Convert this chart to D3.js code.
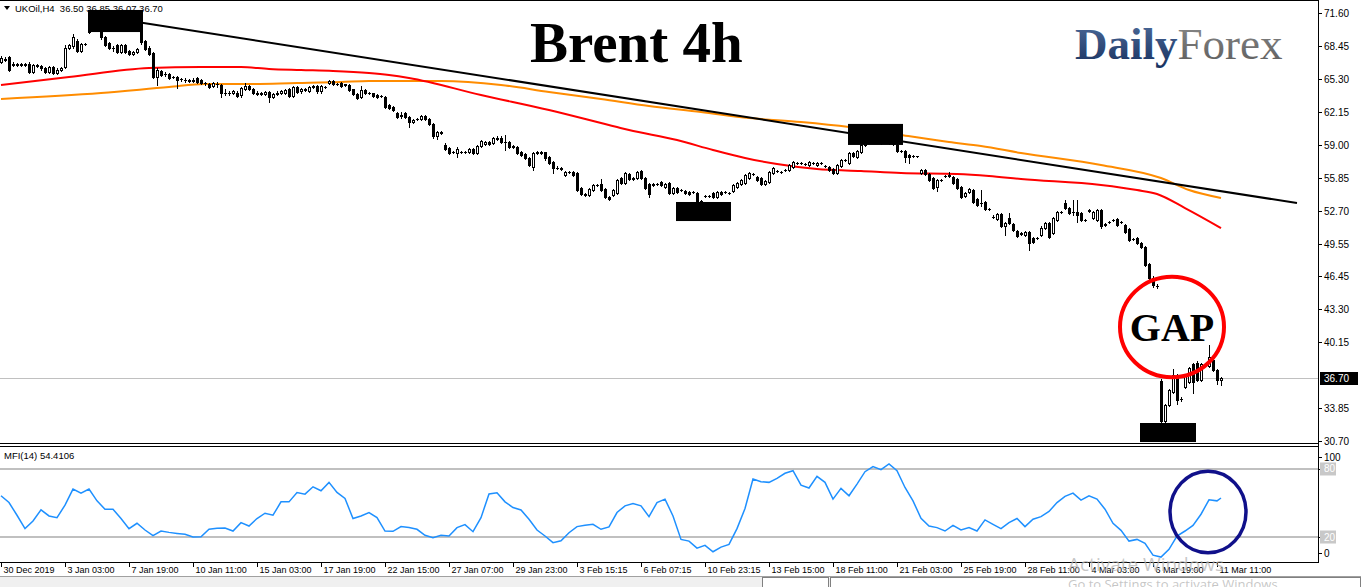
<!DOCTYPE html>
<html><head><meta charset="utf-8">
<script src="https://cdn.jsdelivr.net/npm/d3@7"></script>
<style>body{margin:0;background:#fff;overflow:hidden}svg{display:block}</style>
</head><body><svg id="c" width="1361" height="587"></svg>
<script>
// ---------- DATA ----------
const symbolHeader = "UKOil,H4";
const headerOHLC = ["36.50","36.85","36.07","36.70"];
const timeLabels = ["30 Dec 2019","3 Jan 03:00","7 Jan 19:00","10 Jan 11:00","15 Jan 03:00","17 Jan 19:00","22 Jan 15:00","27 Jan 07:00","29 Jan 23:00","3 Feb 15:15","6 Feb 07:15","10 Feb 23:15","13 Feb 15:00","18 Feb 11:00","21 Feb 03:00","25 Feb 19:00","28 Feb 11:00","4 Mar 03:00","6 Mar 19:00","11 Mar 11:00"];
const timeLabelBars = [0,16,32,48,64,80,96,112,128,144,160,176,192,208,224,240,256,272,288,304];
const priceTicks = [71.60,68.45,65.30,62.15,59.00,55.85,52.70,49.55,46.45,43.30,40.15,33.85,30.70];
const lastPrice = 36.70;
const mfiTicks = [100,80,20,0];
const mfiLevels = [80,20];

const opens = [66.9,67.25,67.4,66.6,66.7,66.65,66.7,66.7,66.0,66.6,66.5,66.3,66.0,66.4,65.9,66.2,66.4,68.3,68.4,68.9,68.0,68.6,69.8,70.3,70.8,70.0,69.3,68.7,68.3,68.5,67.9,68.5,68.0,67.7,67.9,69.8,68.9,68.3,67.8,65.5,66.1,65.8,65.8,65.5,65.5,65.3,65.2,65.2,65.1,65.4,
65.2,64.9,64.8,64.6,64.8,64.7,64.0,64.0,64.0,64.0,63.8,64.3,64.6,64.3,64.0,63.95,63.85,64.05,63.6,63.9,64.0,63.95,64.3,63.7,64.5,64.1,64.3,64.15,64.5,64.6,64.1,64.5,64.9,65.1,64.8,64.9,64.7,64.7,64.3,63.9,63.6,64.2,63.95,63.95,63.8,63.7,63.6,62.8,62.6,62.0,
61.8,62.0,61.7,61.2,61.5,61.45,61.8,61.5,61.0,59.8,60.2,59.0,58.7,58.3,58.2,58.3,58.35,58.3,58.6,58.2,58.9,59.1,59.3,59.2,59.6,59.7,59.3,59.3,58.8,58.8,58.3,58.1,57.7,56.9,58.2,58.3,58.3,57.8,57.4,56.8,56.8,56.1,56.4,56.4,56.3,54.9,54.3,54.2,54.7,55.2,
55.25,54.8,54.05,54.2,54.4,55.8,55.4,56.2,55.7,55.8,56.5,55.8,55.3,55.2,55.3,55.45,55.0,55.35,54.4,54.9,54.7,54.6,54.5,54.5,54.4,53.6,54.1,54.1,54.4,54.0,54.5,54.5,54.4,54.6,55.0,55.25,55.4,55.8,56.2,55.9,55.8,55.3,55.45,56.3,56.5,56.4,56.6,56.6,56.9,57.25,
57.3,57.15,57.1,57.3,57.1,57.25,57.0,56.9,56.7,56.3,57.0,57.55,57.25,58.2,57.8,58.3,59.0,59.4,59.3,59.6,59.3,59.5,59.3,59.4,59.0,58.4,58.4,58.0,57.9,57.9,56.3,56.6,56.2,55.8,55.0,55.6,56.0,56.1,55.9,55.7,55.0,54.1,54.5,54.7,53.8,53.4,53.5,52.9,52.1,51.9,
52.4,51.25,52.0,51.45,50.75,50.5,50.4,50.7,50.1,50.1,50.4,51.1,51.5,50.6,51.8,52.6,53.4,53.0,52.6,52.6,52.5,51.8,52.8,52.0,51.8,52.8,51.4,51.6,51.8,51.9,51.6,51.35,51.0,50.0,50.1,49.6,49.2,47.6,46.3,45.5,36.4,32.6,34.1,35.4,37.0,34.7,35.9,36.3,38.1,38.2,
36.5,38.1,37.9,38.4,37.5,36.50];
const highs = [67.5,67.4,67.5,66.9,66.85,66.8,66.85,66.9,66.75,66.7,66.6,66.45,66.5,66.5,66.3,66.4,68.5,68.6,69.6,69.1,68.7,68.7,70.5,71.3,71.5,70.1,69.4,68.8,68.4,68.6,68.6,68.6,68.1,68.0,68.3,70.0,69.0,68.4,67.9,66.3,66.2,66.0,65.9,65.6,65.6,65.4,65.35,65.3,65.35,65.5,
65.3,65.0,64.9,65.0,65.0,64.8,64.3,64.15,64.2,64.1,64.5,64.9,64.7,64.4,64.1,64.05,64.15,64.1,64.0,64.1,64.2,64.35,64.4,64.6,64.6,64.4,64.4,64.6,64.75,64.7,64.7,64.65,65.2,65.2,64.9,65.0,64.85,64.8,64.35,64.0,64.6,64.3,64.05,64.0,63.9,63.8,63.7,62.9,62.7,62.1,
62.1,62.1,61.8,61.5,61.6,61.85,61.9,61.6,61.1,60.3,60.3,59.2,58.8,58.4,58.8,58.45,58.45,58.7,58.7,59.0,59.5,59.4,59.4,59.75,59.8,59.8,59.9,59.4,58.95,58.9,58.4,58.2,57.8,58.3,58.4,58.4,58.35,57.9,57.5,56.95,56.9,56.5,56.5,56.5,56.4,55.0,54.4,54.9,55.3,55.3,
55.7,54.9,54.1,54.8,55.7,55.9,56.4,56.3,55.9,56.5,56.6,55.9,55.4,55.35,55.4,55.55,55.4,55.45,55.0,55.0,54.8,54.7,54.6,54.6,54.5,53.7,54.2,54.25,54.5,54.6,54.6,54.6,54.5,55.25,55.45,55.7,56.2,56.4,56.35,56.0,55.9,55.65,56.5,56.9,56.6,56.5,56.7,57.2,57.45,57.4,
57.4,57.25,57.45,57.4,57.4,57.4,57.1,57.0,56.8,57.2,57.65,57.65,58.3,58.3,58.5,59.1,59.7,59.8,60.0,60.2,59.9,60.0,59.7,59.6,59.1,58.5,58.5,58.1,58.0,57.95,56.7,56.7,56.3,55.9,55.7,55.75,56.1,56.4,56.0,55.8,55.1,54.5,54.9,54.8,53.9,54.7,53.6,53.0,52.3,52.5,
52.5,51.65,52.5,51.55,50.85,50.65,50.8,50.8,50.2,50.2,51.2,51.6,51.6,52.1,52.7,52.7,53.7,53.1,53.7,53.7,52.6,51.9,52.9,52.7,52.9,52.9,51.5,51.7,51.9,52.0,51.7,51.45,51.1,50.1,50.2,49.7,49.3,47.7,46.5,45.7,36.6,34.2,35.7,37.6,37.1,34.9,37.1,37.8,38.2,38.3,
38.2,38.2,39.9,38.5,37.6,36.85];
const lows = [66.8,67.0,66.1,66.5,66.55,66.5,66.5,65.9,65.9,66.4,66.2,65.9,65.9,65.8,65.8,66.1,66.3,68.2,68.3,67.9,67.9,68.55,69.7,70.2,70.0,69.1,68.4,68.2,68.0,67.8,67.8,67.8,67.6,67.6,67.8,68.6,68.1,67.6,65.4,64.7,65.6,65.6,65.3,65.4,64.4,65.1,65.05,65.0,65.0,64.9,
64.8,64.75,64.4,64.5,64.5,63.6,63.8,63.8,63.9,63.6,63.6,64.2,64.2,63.9,63.8,63.8,63.75,63.1,63.5,63.8,63.9,63.85,63.6,63.6,63.95,64.0,64.1,64.05,64.4,64.0,64.0,64.4,64.8,64.7,64.7,64.5,64.6,64.1,63.75,63.4,63.5,63.85,63.85,63.6,63.5,63.6,62.5,62.4,62.2,61.6,
61.6,61.6,60.7,61.1,61.4,61.4,61.4,60.9,59.7,59.6,60.05,58.5,58.1,58.2,57.8,58.2,58.2,58.2,58.1,58.1,58.8,59.0,59.0,59.1,59.5,59.2,58.5,58.7,58.7,58.15,57.9,57.65,57.0,56.6,58.1,58.1,57.6,57.2,56.3,56.7,56.6,56.0,56.3,56.0,54.6,54.2,54.1,54.1,54.6,55.1,
54.6,53.9,53.7,54.1,54.3,55.3,55.3,55.6,55.6,55.7,55.7,54.8,54.0,55.1,55.2,55.05,54.9,54.3,54.3,54.4,54.6,54.3,54.2,54.4,53.4,53.5,54.0,54.0,53.9,53.9,54.2,54.4,54.3,54.5,54.9,55.15,55.3,55.7,56.1,55.5,55.15,55.2,55.35,56.2,56.4,56.3,56.5,56.5,56.8,57.15,
57.15,57.05,57.0,57.2,57.0,57.15,56.9,56.5,56.2,56.2,56.9,57.45,57.15,57.8,57.7,58.2,58.9,59.2,59.2,59.2,59.1,59.2,59.1,59.0,58.3,58.3,57.4,57.3,57.8,57.85,56.2,56.1,55.5,54.8,54.6,55.5,55.9,55.9,55.25,54.8,53.9,54.0,54.4,53.4,53.15,53.2,52.8,52.8,52.0,51.8,
51.15,50.4,51.4,50.8,50.2,50.4,50.3,48.95,49.6,50.0,50.3,51.0,50.1,50.5,51.7,52.5,52.85,52.4,52.3,51.6,51.7,51.7,52.6,51.9,51.7,51.1,51.25,51.5,51.7,51.25,51.5,50.6,49.8,49.9,49.5,49.1,47.4,46.2,45.4,45.3,31.3,31.0,34.0,35.3,34.2,34.5,35.8,36.2,35.3,36.4,
36.4,37.9,37.8,37.4,36.1,36.07];
const closes = [67.3,67.15,66.2,66.7,66.65,66.7,66.6,66.0,66.6,66.5,66.3,66.0,66.4,65.9,66.2,66.3,68.3,68.5,69.3,68.0,68.6,68.65,70.3,70.8,70.2,69.3,68.5,68.3,68.25,67.9,68.5,67.9,67.7,67.9,68.2,68.8,68.2,67.7,65.5,66.2,65.7,65.8,65.4,65.5,65.2,65.3,65.2,65.1,65.2,65.0,
64.9,64.9,64.5,64.9,64.8,64.0,64.0,63.95,64.1,63.7,64.4,64.6,64.3,64.0,63.9,63.9,64.05,63.6,63.9,64.0,64.1,64.25,63.7,64.5,64.05,64.3,64.2,64.5,64.6,64.1,64.6,64.55,65.1,64.8,64.85,64.6,64.8,64.2,63.85,63.5,64.2,63.95,63.95,63.7,63.6,63.7,62.6,62.5,62.3,61.7,
61.85,61.7,61.2,61.4,61.5,61.75,61.5,61.0,59.8,60.2,60.15,58.6,58.2,58.3,58.6,58.35,58.3,58.6,58.2,58.9,59.4,59.3,59.1,59.65,59.7,59.3,59.25,58.8,58.85,58.25,58.0,57.75,57.1,58.2,58.3,58.2,57.7,57.3,56.8,56.8,56.7,56.4,56.4,56.1,54.7,54.3,54.2,54.8,55.2,55.15,
54.7,54.0,53.8,54.7,55.6,55.4,56.3,55.7,55.8,56.4,55.8,54.9,54.3,55.25,55.3,55.15,55.3,54.4,54.9,54.5,54.7,54.4,54.3,54.5,53.5,53.6,54.1,54.15,54.0,54.5,54.3,54.5,54.4,55.15,55.35,55.6,56.1,56.3,56.25,55.6,55.25,55.55,56.4,56.8,56.5,56.4,56.6,57.1,57.35,57.3,
57.25,57.15,57.35,57.3,57.3,57.3,57.0,56.6,56.3,57.1,57.55,57.55,58.2,57.9,58.4,59.0,59.4,59.3,59.6,59.3,59.5,59.3,59.4,59.1,58.4,58.45,57.85,57.8,57.9,57.9,56.6,56.2,55.6,54.9,55.6,55.65,56.0,56.0,55.35,54.9,54.0,54.4,54.8,53.5,53.25,53.45,52.9,52.9,52.1,52.4,
51.25,51.55,51.5,50.9,50.3,50.55,50.7,49.6,49.7,50.1,51.1,51.5,50.2,52.0,52.6,52.6,52.95,52.5,52.6,52.3,51.8,51.8,52.7,52.6,52.8,51.2,51.35,51.6,51.8,51.35,51.6,50.7,49.9,50.0,49.6,49.2,47.5,46.3,45.6,45.5,32.6,34.1,35.6,37.0,34.6,34.7,37.0,37.7,36.3,36.5,
38.1,38.0,38.7,37.5,36.5,36.70];

// moving averages sampled at bar positions
const redMABars   = [0,17,37,50,60,67,75,83,92,97,102,120,137,154,157,169,178,186,194,204,215,225,239,247,255,275,284,289,296,305];
const redMAValues = [64.72,65.48,66.34,66.44,66.44,66.25,66.15,66.06,65.86,65.67,65.39,63.76,62.33,60.70,60.42,59.46,58.51,57.74,57.17,56.69,56.50,56.31,56.21,56.02,55.73,55.16,54.68,54.30,52.96,51.05];
const orangeMABars   = [0,25,42,51,60,74,85,92,102,110,125,137,150,162,175,187,200,212,225,237,245,255,275,290,297,305];
const orangeMAValues = [63.38,63.95,64.53,64.81,64.81,64.91,65.00,65.10,65.10,65.10,64.72,64.05,63.38,62.71,62.14,61.56,61.18,60.70,59.94,59.27,58.89,58.22,57.07,55.83,54.68,53.92];
const trendBars   = [24,324];
const trendPrices = [71.34,53.44];

// MFI(14)
const mfiValues = [56.4,50.4,39.2,27.4,34.2,43.9,38.6,37.1,48.1,62.3,58.7,62.3,51.9,44.5,44.5,36.3,27.4,32.1,26.2,21.2,25.3,24.1,23.2,22.4,20.0,20.3,26.8,27.7,28.0,25.3,32.7,29.7,36.3,41.0,39.2,51.0,51.0,59.3,57.8,64.3,60.8,68.2,59.3,54.0,36.3,38.6,41.6,37.1,25.3,25.0,29.2,28.3,26.8,21.5,19.4,21.5,20.9,28.3,30.9,24.7,37.1,58.0,59.0,51.0,46.0,43.9,35.7,26.2,20.9,15.0,16.7,23.8,29.2,30.3,31.2,26.8,28.9,41.6,47.5,49.6,47.5,38.0,50.4,53.4,38.6,17.9,16.4,10.2,12.6,7.0,11.1,13.5,27.4,45.1,71.1,68.8,68.2,71.7,76.2,78.5,65.8,63.2,73.5,68.2,53.4,62.9,56.4,66.7,77.6,82.1,79.4,84.4,78.5,63.7,51.9,36.5,29.7,28.3,25.3,30.3,26.2,28.3,25.3,35.1,31.2,27.4,32.7,36.3,29.2,35.7,38.0,42.5,50.4,55.8,58.7,52.5,56.4,53.4,44.5,32.1,25.9,16.4,17.9,14.4,4.0,2.3,9.1,20.9,25.3,30.3,40.1,52.8,51.9,54.41];
const mfiBars = d3.range(0, 305, 2).concat([305]);
const mfiLabel = "MFI(14) 54.4106";

// annotations (data coordinates)
const boxBars   = [[21.75,35.5],[211.75,225.5],[168.75,182.5],[284.75,298.75]];
const boxPrices = [[71.89,69.78],[61.0,58.99],[53.54,51.72],[32.42,30.6]];
const gapCircle = {bar:292.75, price:41.6, rBars:13, rPrice:4.8};
const mfiCircle = {bar:301.75, value:42.1, rBars:9.5, rValue:36};

// ---------- DRAW ----------
const svg = d3.select("#c");
const W = 1361, H = 587, R = 1318;
const x = d3.scaleLinear().domain([0, 329.25]).range([1, R]);
const y = d3.scaleLinear().domain([30.70, 71.60]).range([441, 13]);
const ym = d3.scaleLinear().domain([0, 100]).range([559.7, 446.3]);
const FONT = "'Liberation Sans', Arial, sans-serif";

const defs = svg.append("defs");
defs.append("clipPath").attr("id","clipMain").append("rect").attr("x",0).attr("y",2).attr("width",R).attr("height",441);
defs.append("clipPath").attr("id","clipMfi").append("rect").attr("x",0).attr("y",447).attr("width",R).attr("height",115);
const gd = defs.append("linearGradient").attr("id","gDaily").attr("x1",0).attr("y1",0).attr("x2",0).attr("y2",1);
gd.append("stop").attr("offset","0%").attr("stop-color","#4f6d9c");
gd.append("stop").attr("offset","100%").attr("stop-color","#17305e");
const gf = defs.append("linearGradient").attr("id","gForex").attr("x1",0).attr("y1",0).attr("x2",0).attr("y2",1);
gf.append("stop").attr("offset","0%").attr("stop-color","#8c8c8c");
gf.append("stop").attr("offset","100%").attr("stop-color","#5a5a5a");

svg.append("rect").attr("width",W).attr("height",H).attr("fill","#fff");

const main = svg.append("g").attr("clip-path","url(#clipMain)");
// last price line
main.append("line").attr("x1",0).attr("x2",R).attr("y1",Math.round(y(lastPrice))+0.5).attr("y2",Math.round(y(lastPrice))+0.5)
  .attr("stroke","#c0c0c0").attr("stroke-width",1);

// MAs
const lineP = d3.line().x(d=>x(d[0])).y(d=>y(d[1])).curve(d3.curveMonotoneX);
main.append("path").attr("d", lineP(orangeMABars.map((b,i)=>[b,orangeMAValues[i]])))
  .attr("fill","none").attr("stroke","#ff8c00").attr("stroke-width",2);
main.append("path").attr("d", lineP(redMABars.map((b,i)=>[b,redMAValues[i]])))
  .attr("fill","none").attr("stroke","#ff0000").attr("stroke-width",2);
main.append("path").attr("d", d3.line().x(d=>x(d[0])).y(d=>y(d[1]))(trendBars.map((b,i)=>[b,trendPrices[i]])))
  .attr("fill","none").attr("stroke","#000").attr("stroke-width",2);

// candles
const cg = main.append("g").attr("shape-rendering","crispEdges");
closes.forEach((c,i)=>{
  const o=opens[i], h=highs[i], l=lows[i];
  const cx = Math.round(x(i)) + 0.5;
  cg.append("line").attr("x1",cx).attr("x2",cx).attr("y1",Math.round(y(h))).attr("y2",Math.round(y(l))+1).attr("stroke","#000");
  const top = Math.round(y(Math.max(o,c))), bot = Math.round(y(Math.min(o,c)));
  if (bot - top < 1) {
    cg.append("line").attr("x1",cx-1.5).attr("x2",cx+1.5).attr("y1",top+0.5).attr("y2",top+0.5).attr("stroke","#000");
  } else if (c > o) {
    cg.append("rect").attr("x",cx-1).attr("y",top+0.5).attr("width",2).attr("height",bot-top).attr("fill","#fff").attr("stroke","#000");
  } else {
    cg.append("rect").attr("x",cx-1.5).attr("y",top).attr("width",3).attr("height",bot-top+1).attr("fill","#000");
  }
});

// black boxes
boxBars.forEach((bb,i)=>{
  main.append("rect").attr("x",x(bb[0])).attr("width",x(bb[1])-x(bb[0]))
    .attr("y",y(boxPrices[i][0])).attr("height",y(boxPrices[i][1])-y(boxPrices[i][0])).attr("fill","#000");
});

// GAP circle
svg.append("ellipse").attr("cx",x(gapCircle.bar)).attr("cy",y(gapCircle.price))
  .attr("rx",x(gapCircle.bar+gapCircle.rBars)-x(gapCircle.bar)).attr("ry",y(gapCircle.price-gapCircle.rPrice)-y(gapCircle.price))
  .attr("fill","none").attr("stroke","#ff0000").attr("stroke-width",4);
svg.append("text").attr("x",x(gapCircle.bar)).attr("y",y(gapCircle.price)+14).attr("text-anchor","middle")
  .attr("font-family","'Liberation Serif', 'Times New Roman', serif").attr("font-weight","bold").attr("font-size",40).attr("fill","#000").text("GAP");

// Title + logo
svg.append("text").attr("x",530).attr("y",62).attr("font-family","'Liberation Serif', 'Times New Roman', serif")
  .attr("font-weight","bold").attr("font-size",57).attr("fill","#000").text("Brent 4h");
const logo = svg.append("text").attr("x",1075).attr("y",59).attr("font-family","'Liberation Serif', 'Times New Roman', serif").attr("font-size",45);
logo.append("tspan").attr("font-weight","bold").attr("fill","url(#gDaily)").text("Daily");
logo.append("tspan").attr("fill","url(#gForex)").text("Forex");

// header
svg.append("path").attr("d","M4,6 L10,6 L7,10 Z").attr("fill","#000");
svg.append("text").attr("x",15).attr("y",12).attr("font-family",FONT).attr("font-size",9.5).attr("fill","#000")
  .attr("xml:space","preserve").text(symbolHeader + "  " + headerOHLC.join(" "));

// frame
const fr = svg.append("g").attr("stroke","#000").attr("shape-rendering","crispEdges");
fr.append("line").attr("x1",0).attr("x2",R).attr("y1",0.5).attr("y2",0.5);
fr.append("line").attr("x1",R+0.5).attr("x2",R+0.5).attr("y1",0).attr("y2",563);
fr.append("line").attr("x1",0).attr("x2",R).attr("y1",443.5).attr("y2",443.5);
fr.append("line").attr("x1",0).attr("x2",R).attr("y1",446.5).attr("y2",446.5);
fr.append("line").attr("x1",0).attr("x2",R+1).attr("y1",562.5).attr("y2",562.5);

// price axis
priceTicks.forEach(p=>{
  const yy = Math.round(y(p)) + 0.5;
  fr.append("line").attr("x1",R).attr("x2",R+4).attr("y1",yy).attr("y2",yy);
  svg.append("text").attr("x",R+6).attr("y",yy+3.5).attr("font-family",FONT).attr("font-size",10).attr("fill","#000").text(p.toFixed(2));
});
{
  const yy = Math.round(y(lastPrice)) + 0.5;
  svg.append("rect").attr("x",R+2).attr("y",yy-6.5).attr("width",38).attr("height",13).attr("fill","#000");
  svg.append("text").attr("x",R+6).attr("y",yy+3.5).attr("font-family",FONT).attr("font-size",10).attr("fill","#fff").text(lastPrice.toFixed(2));
}

// MFI panel
const mg = svg.append("g").attr("clip-path","url(#clipMfi)");
mfiLevels.forEach(v=>{
  mg.append("line").attr("x1",0).attr("x2",R).attr("y1",ym(v)).attr("y2",ym(v)).attr("stroke","#c0c0c0").attr("stroke-width",2);
});
mg.append("path").attr("d", d3.line().x(d=>x(d[0])).y(d=>ym(d[1]))(mfiBars.map((b,i)=>[b,mfiValues[i]])))
  .attr("fill","none").attr("stroke","#1e90ff").attr("stroke-width",1.5);
svg.append("ellipse").attr("cx",x(mfiCircle.bar)).attr("cy",ym(mfiCircle.value))
  .attr("rx",x(mfiCircle.bar+mfiCircle.rBars)-x(mfiCircle.bar)).attr("ry",ym(mfiCircle.value-mfiCircle.rValue)-ym(mfiCircle.value))
  .attr("fill","none").attr("stroke","#10108a").attr("stroke-width",3.5);
svg.append("text").attr("x",4).attr("y",459).attr("font-family",FONT).attr("font-size",9.5).attr("fill","#000").text(mfiLabel);
mfiTicks.forEach(v=>{
  const yy = Math.max(457, Math.min(553, ym(v)));
  fr.append("line").attr("x1",R).attr("x2",R+4).attr("y1",Math.round(yy)+0.5).attr("y2",Math.round(yy)+0.5);
  if (mfiLevels.includes(v)) {
    svg.append("rect").attr("x",R+2).attr("y",yy-6.5).attr("width",16).attr("height",13).attr("fill","#c8c8c8");
    svg.append("text").attr("x",R+6).attr("y",yy+3.5).attr("font-family",FONT).attr("font-size",10).attr("fill","#fff").text(v);
  } else {
    svg.append("text").attr("x",R+6).attr("y",yy+3.5).attr("font-family",FONT).attr("font-size",10).attr("fill","#000").text(v);
  }
});

// time axis
timeLabels.forEach((t,i)=>{
  const xx = Math.round(x(timeLabelBars[i])) + 0.5;
  fr.append("line").attr("x1",xx).attr("x2",xx).attr("y1",562).attr("y2",567);
  svg.append("text").attr("x",xx+2).attr("y",573).attr("font-family",FONT).attr("font-size",9).attr("fill","#000").text(t);
});

// bottom tab strip
svg.append("rect").attr("x",0).attr("y",576).attr("width",W).attr("height",11).attr("fill","#f0f0f0");
svg.append("line").attr("x1",0).attr("x2",W).attr("y1",576.5).attr("y2",576.5).attr("stroke","#a0a0a0");
[[762,828],[830,1360]].forEach(t=>{
  svg.append("rect").attr("x",t[0]+0.5).attr("y",577.5).attr("width",t[1]-t[0]).attr("height",12).attr("fill","#fff").attr("stroke","#808080");
});

// watermark (semi-transparent overlay, as in the screenshot)
svg.append("text").attr("x",1068).attr("y",571).attr("font-family","'Open Sans', sans-serif").attr("font-size",19).attr("fill","#b4b4b4").attr("fill-opacity",0.75).text("Activate Windows");
svg.append("text").attr("x",1068).attr("y",589).attr("font-family","'Open Sans', sans-serif").attr("font-size",13).attr("fill","#b4b4b4").attr("fill-opacity",0.75).text("Go to Settings to activate Windows.");
</script></body></html>
